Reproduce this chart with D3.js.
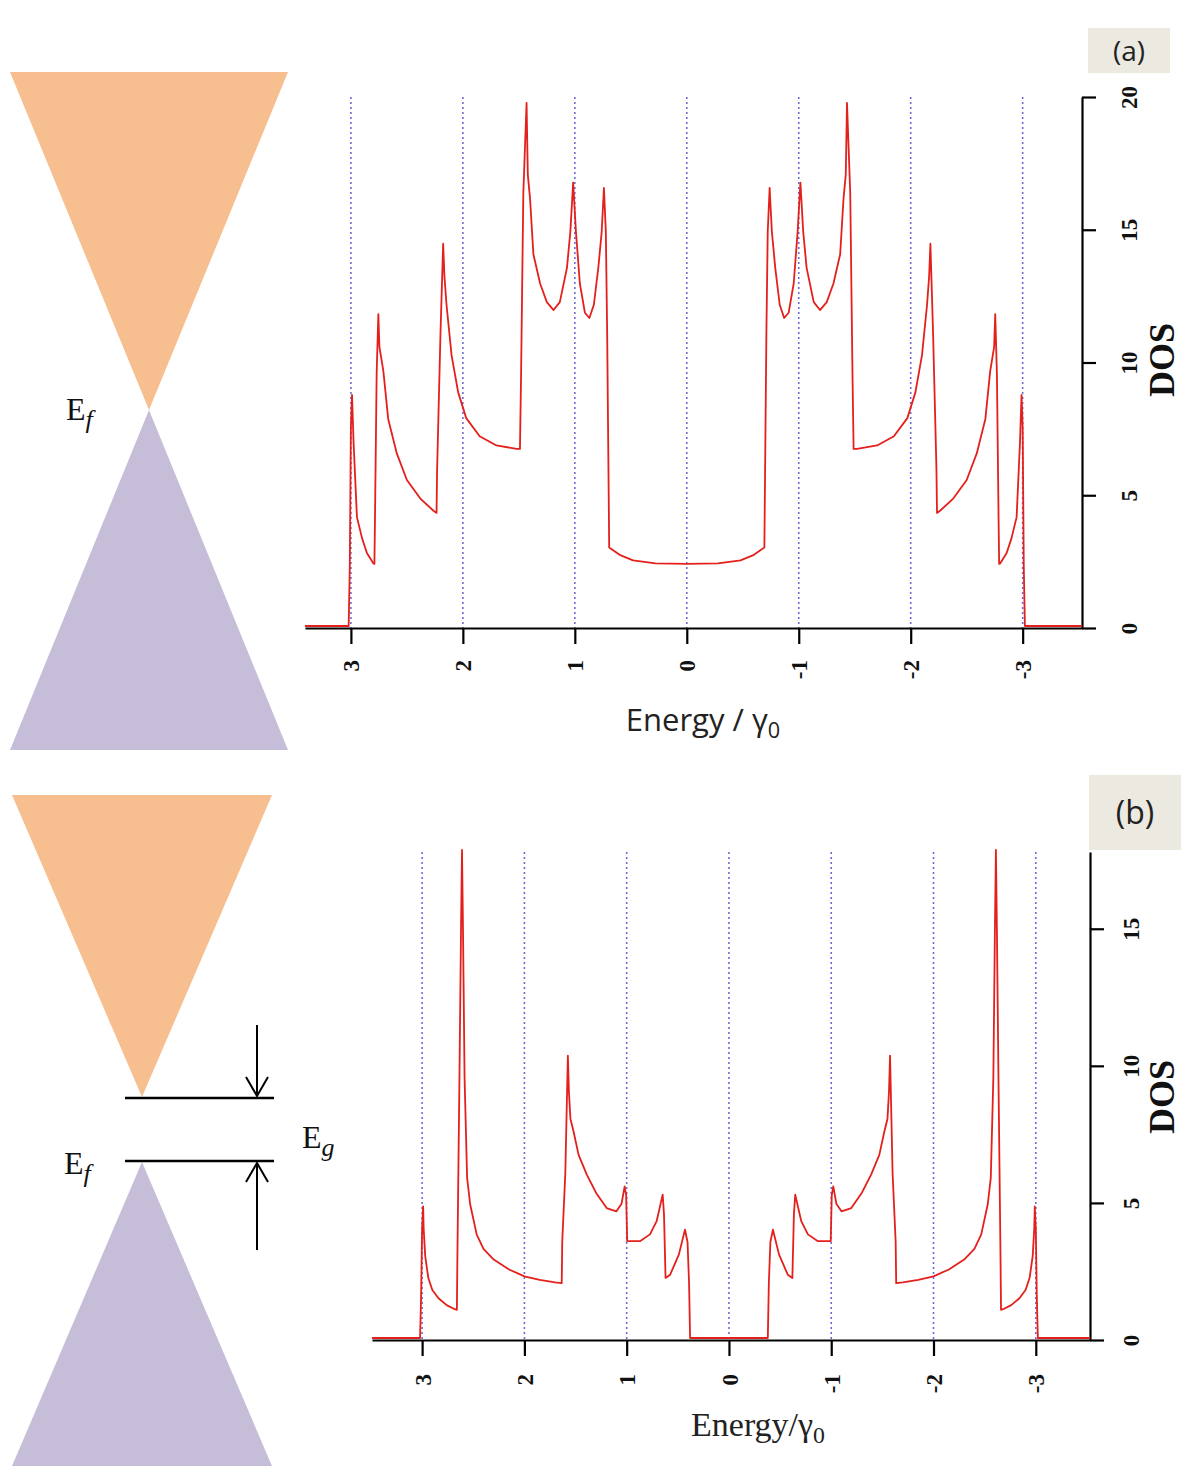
<!DOCTYPE html>
<html>
<head>
<meta charset="utf-8">
<script src="https://cdn.jsdelivr.net/npm/d3@7"></script>
<style>
  body { margin: 0; background: #fff; }
  svg { display: block; }
</style>
</head>
<body>
<div class="vis"></div>
<script>
// energy ticks shared by both panels (axis is reversed: +3 on the left)
const energyTicks = [3, 2, 1, 0, -1, -2, -3];
const dosTicksA = [0, 5, 10, 15, 20];
const dosTicksB = [0, 5, 10, 15];

// panel (a): DOS
const energyA = [
  3.41, 3.02, 3.01, 3.0, 2.99, 2.976, 2.946, 2.90, 2.857, 2.80, 2.79,
  2.785, 2.77, 2.755, 2.745, 2.71, 2.667, 2.59, 2.50, 2.38, 2.265, 2.235,
  2.23, 2.20, 2.176, 2.165, 2.146, 2.101, 2.042, 1.97, 1.85, 1.70, 1.52, 1.49,
  1.48, 1.46, 1.431, 1.42, 1.40, 1.37, 1.31, 1.25, 1.19, 1.134, 1.07, 1.04, 1.015,
  0.99, 0.955, 0.91, 0.87, 0.83, 0.79, 0.76, 0.74, 0.723, 0.711, 0.693,
  0.60, 0.48, 0.28, 0, -0.28, -0.48, -0.60,
  -0.693, -0.711, -0.723, -0.74, -0.76, -0.79, -0.83, -0.87, -0.91, -0.955, -0.99,
  -1.015, -1.04, -1.07, -1.134, -1.19, -1.25, -1.31, -1.37, -1.40, -1.42, -1.431, -1.46, -1.48,
  -1.49, -1.52, -1.70, -1.85, -1.97, -2.042, -2.101, -2.146, -2.165, -2.176, -2.20, -2.23,
  -2.235, -2.265, -2.38, -2.50, -2.59, -2.667, -2.71, -2.745, -2.755, -2.77, -2.785,
  -2.79, -2.80, -2.857, -2.90, -2.946, -2.976, -2.99, -3.0, -3.01, -3.02, -3.53
];
const dosA = [
  0, 0, 2.2, 7.5, 8.7, 6.9, 4.1, 3.3, 2.75, 2.36, 2.34,
  4.0, 9.5, 11.75, 10.5, 9.6, 7.8, 6.5, 5.5, 4.8, 4.35, 4.26,
  5.9, 11.0, 14.4, 13.2, 12.1, 10.2, 8.8, 7.83, 7.15, 6.8, 6.67, 6.67,
  9.5, 16.3, 19.7, 17.0, 16.1, 14.0, 12.9, 12.2, 11.9, 12.2, 13.5, 14.85, 16.7,
  14.85, 12.9, 11.8, 11.6, 12.1, 13.5, 14.85, 16.5, 14.85, 11.0, 2.96,
  2.68, 2.47, 2.36, 2.34, 2.36, 2.47, 2.68,
  2.96, 11.0, 14.85, 16.5, 14.85, 13.5, 12.1, 11.6, 11.8, 12.9, 14.85,
  16.7, 14.85, 13.5, 12.2, 11.9, 12.2, 12.9, 14.0, 16.1, 17.0, 19.7, 16.3, 9.5,
  6.67, 6.67, 6.8, 7.15, 7.83, 8.8, 10.2, 12.1, 13.2, 14.4, 11.0, 5.9,
  4.26, 4.35, 4.8, 5.5, 6.5, 7.8, 9.6, 10.5, 11.75, 9.5, 4.0,
  2.34, 2.36, 2.75, 3.3, 4.1, 6.9, 8.7, 7.5, 2.2, 0, 0
];

// panel (b): gapped spectrum
const energyB = [
  3.49, 3.02, 3.01, 3.0, 2.99, 2.985, 2.97, 2.94, 2.90, 2.84, 2.76, 2.68, 2.66,
  2.655, 2.635, 2.62, 2.61, 2.60, 2.585, 2.56, 2.53, 2.466, 2.40, 2.30, 2.15, 2.0, 1.85, 1.70, 1.635,
  1.63, 1.60, 1.575, 1.565, 1.55, 1.52, 1.47, 1.39, 1.30, 1.196, 1.10, 1.05, 1.02, 1.005, 0.995,
  0.95, 0.87, 0.772, 0.707, 0.648, 0.635, 0.62, 0.575, 0.49, 0.43, 0.405, 0.39, 0.38,
  0, -0.38,
  -0.39, -0.405, -0.43, -0.49, -0.575, -0.62, -0.635, -0.648, -0.707, -0.772, -0.87, -0.95,
  -0.995, -1.005, -1.02, -1.05, -1.10, -1.196, -1.30, -1.39, -1.47, -1.52, -1.55, -1.565, -1.575, -1.60, -1.63,
  -1.635, -1.70, -1.85, -2.0, -2.15, -2.30, -2.40, -2.466, -2.53, -2.56, -2.585, -2.60, -2.61, -2.62, -2.635, -2.655,
  -2.66, -2.68, -2.76, -2.84, -2.90, -2.94, -2.97, -2.985, -2.99, -3.0, -3.01, -3.02, -3.53
];
const dosB = [
  0, 0, 1.5, 4.0, 4.8, 4.0, 3.0, 2.2, 1.75, 1.45, 1.2, 1.05, 1.03,
  3.0, 9.5, 14.8, 17.8, 14.8, 9.5, 5.84, 4.87, 3.77, 3.25, 2.86, 2.5, 2.25, 2.12, 2.03, 2.0,
  3.5, 6.0, 10.3, 9.0, 8.0, 7.54, 6.68, 5.96, 5.3, 4.74, 4.62, 4.9, 5.53, 5.2, 3.53,
  3.53, 3.53, 3.78, 4.26, 5.23, 4.5, 2.19, 2.31, 3.04, 3.95, 3.5, 2.0, 0,
  0, 0,
  2.0, 3.5, 3.95, 3.04, 2.31, 2.19, 4.5, 5.23, 4.26, 3.78, 3.53, 3.53,
  3.53, 5.2, 5.53, 4.9, 4.62, 4.74, 5.3, 5.96, 6.68, 7.54, 8.0, 9.0, 10.3, 6.0, 3.5,
  2.0, 2.03, 2.12, 2.25, 2.5, 2.86, 3.25, 3.77, 4.87, 5.84, 9.5, 14.8, 17.8, 14.8, 9.5, 3.0,
  1.03, 1.05, 1.2, 1.45, 1.75, 2.2, 3.0, 4.0, 4.8, 4.0, 1.5, 0, 0
];

const width = 1181, height = 1466;
const svg = d3.select('.vis').append('svg')
  .attr('width', width)
  .attr('height', height);

const serif = "'Liberation Serif', 'DejaVu Serif', serif";
const sans = "'Open Sans', 'Liberation Sans', sans-serif";

// --- cone diagrams on the left ---
function cone(pts, fill) {
  svg.append('path')
    .attr('d', d3.line()(pts) + 'Z')
    .attr('fill', fill);
}
const orange = '#f7be8f', purple = '#c6bdd9';

cone([[10, 72], [288, 72], [149, 410]], orange);
cone([[149, 410], [10, 750], [288, 750]], purple);

cone([[12, 795], [272, 795], [142, 1097]], orange);
cone([[142, 1162], [12, 1466], [272, 1466]], purple);

function subLabel(x, y, main, sub, italic) {
  const t = svg.append('text')
    .attr('x', x).attr('y', y)
    .attr('font-family', serif)
    .attr('font-size', 32)
    .attr('fill', '#111');
  t.append('tspan').text(main);
  t.append('tspan')
    .attr('dy', 8)
    .attr('font-size', 26)
    .attr('font-style', italic ? 'italic' : null)
    .text(sub);
}
subLabel(66, 420, 'E', 'f', true);
subLabel(64, 1174, 'E', 'f', true);
subLabel(302, 1148, 'E', 'g', true);

// gap lines + arrows (panel b)
const lineG = svg.append('g').attr('stroke', '#000').attr('stroke-width', 2.5).attr('fill', 'none');
lineG.append('line').attr('x1', 125).attr('x2', 274).attr('y1', 1098).attr('y2', 1098);
lineG.append('line').attr('x1', 125).attr('x2', 274).attr('y1', 1161).attr('y2', 1161);
lineG.append('line').attr('x1', 257).attr('x2', 257).attr('y1', 1025).attr('y2', 1096).attr('stroke-width', 2);
lineG.append('path').attr('d', 'M246,1077 L257,1096 L268,1077').attr('stroke-width', 2);
lineG.append('line').attr('x1', 257).attr('x2', 257).attr('y1', 1163).attr('y2', 1250).attr('stroke-width', 2);
lineG.append('path').attr('d', 'M246,1182 L257,1163 L268,1182').attr('stroke-width', 2);

// --- panel tag boxes ---
function tag(x, y, w, h, label, size) {
  svg.append('rect').attr('x', x).attr('y', y).attr('width', w).attr('height', h).attr('fill', '#ece9e0');
  svg.append('text')
    .attr('x', x + w / 2).attr('y', y + h / 2 + size * 0.36)
    .attr('text-anchor', 'middle')
    .attr('font-family', sans)
    .attr('font-size', size)
    .attr('fill', '#222')
    .text(label);
}
tag(1088, 28, 82, 45, '(a)', 28);
tag(1089, 775, 92, 75, '(b)', 32);

// --- DOS panels ---
function panel(cfg) {
  const x = d3.scaleLinear().domain(cfg.xDomain).range([cfg.left, cfg.right]);
  const y = d3.scaleLinear().domain(cfg.yDomain).range([cfg.bottom, cfg.top]);
  const g = svg.append('g');

  // dotted guide lines at integer energies
  g.selectAll('.guide')
    .data(energyTicks)
    .join('line')
    .attr('class', 'guide')
    .attr('x1', d => x(d)).attr('x2', d => x(d))
    .attr('y1', y(cfg.yDomain[1])).attr('y2', cfg.bottom)
    .attr('stroke', '#6b6bd6')
    .attr('stroke-width', 1.6)
    .attr('stroke-dasharray', '2,3');

  // bottom axis
  const xAxis = g.append('g')
    .attr('transform', 'translate(0,' + cfg.bottom + ')')
    .call(d3.axisBottom(x).tickValues(energyTicks).tickSize(16).tickSizeOuter(0).tickFormat(d => String(d)));
  xAxis.select('.domain').attr('stroke-width', 2.2);
  xAxis.selectAll('.tick line').attr('stroke-width', 2.2);
  xAxis.selectAll('.tick text')
    .attr('font-family', serif)
    .attr('font-weight', 'bold')
    .attr('font-size', 23)
    .attr('fill', '#111')
    .attr('text-anchor', 'end')
    .attr('dy', '0.35em')
    .attr('x', 0).attr('y', 0)
    .attr('transform', 'translate(0,' + (cfg.tickLabelTop - cfg.bottom) + ') rotate(-90)');

  // right axis
  const yAxis = g.append('g')
    .attr('transform', 'translate(' + cfg.right + ',0)')
    .call(d3.axisRight(y).tickValues(cfg.yTicks).tickSize(14).tickSizeOuter(0));
  yAxis.select('.domain').attr('stroke-width', 2.2);
  yAxis.selectAll('.tick line').attr('stroke-width', 2.2);
  yAxis.selectAll('.tick text')
    .attr('font-family', serif)
    .attr('font-weight', 'bold')
    .attr('font-size', 23)
    .attr('fill', '#111')
    .attr('text-anchor', 'middle')
    .attr('x', 0).attr('y', 0).attr('dy', 0)
    .attr('transform', 'translate(' + (cfg.yLabelX - cfg.right) + ',0) rotate(-90)');

  // DOS curve, drawn over the axis like the original plot
  const pts = cfg.energy.map((e, i) => [e, cfg.dos[i]]);
  g.append('path')
    .datum(pts)
    .attr('fill', 'none')
    .attr('stroke', '#e3201b')
    .attr('stroke-width', 1.8)
    .attr('stroke-linejoin', 'round')
    .attr('transform', 'translate(0,-2)')
    .attr('d', d3.line().x(d => x(d[0])).y(d => y(d[1])));

  // DOS title
  svg.append('text')
    .attr('transform', 'translate(' + cfg.dosX + ',' + cfg.dosY + ') rotate(-90)')
    .attr('text-anchor', 'middle')
    .attr('font-family', serif)
    .attr('font-weight', 'bold')
    .attr('font-size', 36)
    .attr('fill', '#111')
    .text('DOS');

  // energy title
  const t = svg.append('text')
    .attr('x', cfg.titleX).attr('y', cfg.titleY)
    .attr('text-anchor', 'middle')
    .attr('font-family', cfg.titleFont)
    .attr('font-size', cfg.titleSize)
    .attr('fill', '#222');
  t.append('tspan').text(cfg.titleText);
  t.append('tspan').attr('dy', 7).attr('font-size', cfg.titleSize * 0.7).text('0');
}

panel({
  energy: energyA, dos: dosA, yTicks: dosTicksA,
  xDomain: [3.41, -3.53], yDomain: [0, 20],
  left: 305, right: 1082, top: 97, bottom: 628,
  tickLabelTop: 660, yLabelX: 1137,
  dosX: 1174, dosY: 360,
  titleX: 703, titleY: 731, titleText: 'Energy / γ', titleFont: sans, titleSize: 31
});

panel({
  energy: energyB, dos: dosB, yTicks: dosTicksB,
  xDomain: [3.49, -3.53], yDomain: [0, 17.8],
  left: 372, right: 1090, top: 852, bottom: 1340,
  tickLabelTop: 1374, yLabelX: 1139,
  dosX: 1174, dosY: 1097,
  titleX: 758, titleY: 1436, titleText: 'Energy/γ', titleFont: serif, titleSize: 34
});
</script>
</body>
</html>
